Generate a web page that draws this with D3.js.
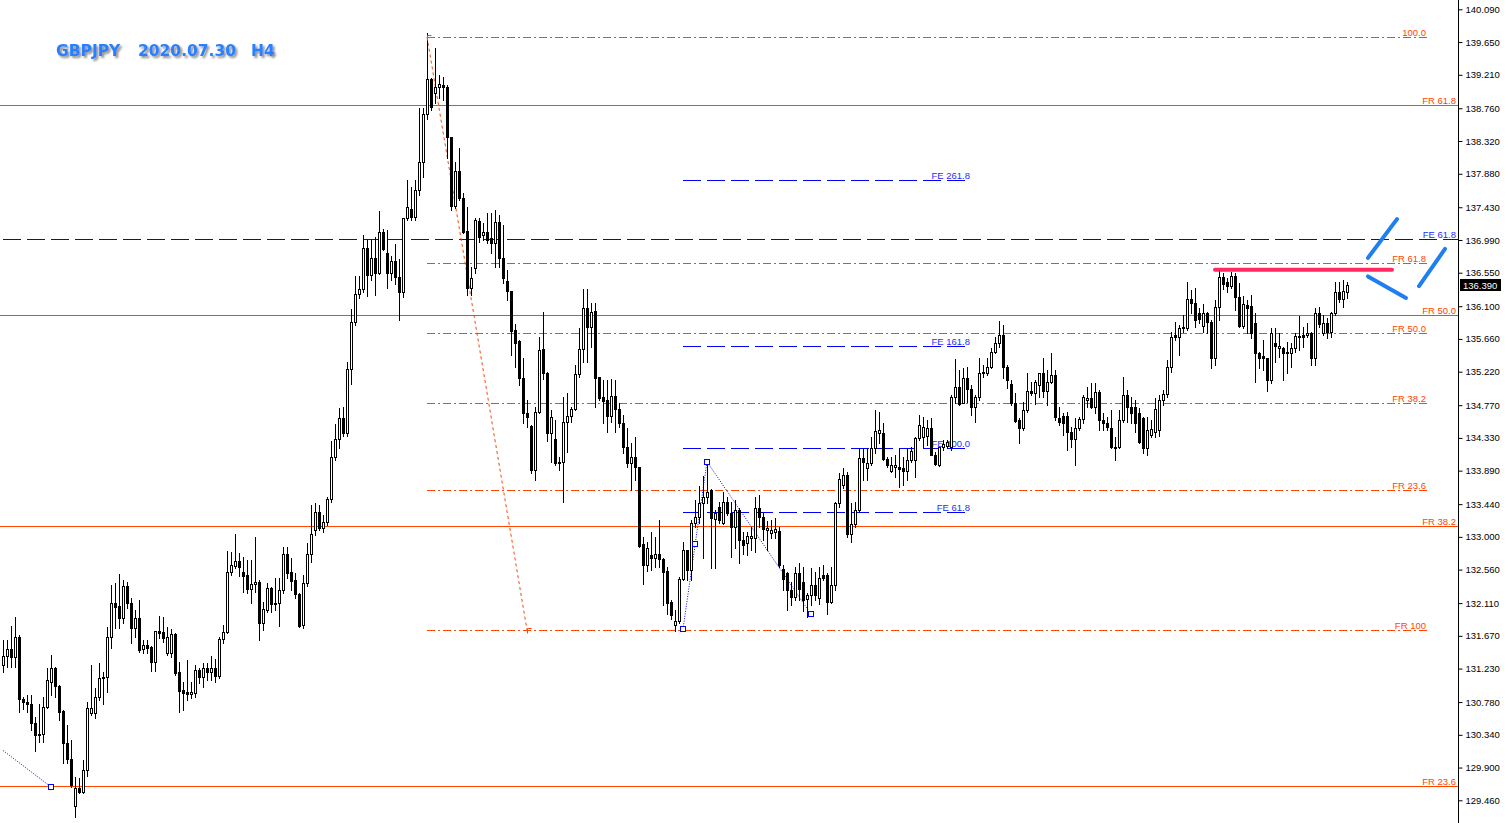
<!DOCTYPE html>
<html><head><meta charset="utf-8">
<script src="https://cdn.jsdelivr.net/npm/d3@7"></script>
<style>html,body{margin:0;padding:0;background:#fff;overflow:hidden}</style>
</head><body>
<svg id="c" width="1508" height="823"></svg>
<script>
// ---------- DATA ----------
const titleParts = ["GBPJPY", "2020.07.30", "H4"];
const yTicks = [140.090,139.650,139.210,138.760,138.320,137.880,137.430,136.990,136.550,136.100,135.660,135.220,134.770,134.330,133.890,133.440,133.000,132.560,132.110,131.670,131.230,130.780,130.340,129.900,129.460];
const lastPrice = 136.390;
// H4 candles [open, high, low, close]
const ohlc = [
[131.28,131.61,131.18,131.40],[131.40,131.61,131.25,131.49],[131.49,131.80,131.25,131.38],[131.38,131.92,131.25,131.65],
[131.65,131.68,130.65,130.82],[130.82,130.85,130.69,130.78],[130.78,130.87,130.65,130.75],[130.75,130.87,130.40,130.50],
[130.50,130.58,130.12,130.34],[130.35,130.75,130.24,130.34],[130.35,130.85,130.24,130.71],[130.71,131.24,130.70,131.08],
[131.05,131.41,130.87,131.24],[131.24,131.25,130.85,130.99],[130.99,131.01,130.54,130.65],[130.66,130.67,129.96,130.23],
[130.23,130.47,129.96,130.01],[130.01,130.27,129.64,129.66],[129.39,129.77,129.23,129.62],[129.62,129.76,129.56,129.57],
[129.57,130.00,129.56,129.87],[129.87,130.78,129.78,130.70],[130.63,131.28,130.60,130.70],[130.63,130.97,130.56,130.85],
[130.85,131.30,130.81,131.10],[131.12,131.18,130.75,131.10],[131.12,131.79,130.91,131.65],[131.65,132.35,131.51,132.11],
[132.11,132.38,131.77,132.06],[132.07,132.50,131.77,131.91],[131.91,132.42,131.84,132.34],[132.34,132.39,132.04,132.11],
[132.11,132.18,131.57,131.77],[131.77,132.02,131.65,131.91],[131.91,132.15,131.45,131.48],[131.49,131.61,131.44,131.55],
[131.55,131.61,131.44,131.51],[131.52,131.53,131.20,131.32],[131.32,131.73,131.20,131.73],[131.73,131.94,131.64,131.71],
[131.72,131.92,131.59,131.64],[131.44,131.79,131.41,131.65],[131.44,131.76,131.38,131.69],[131.69,131.71,131.14,131.17],
[131.18,131.32,130.65,130.93],[130.94,131.05,130.67,130.90],[130.91,131.34,130.81,130.89],[130.89,131.05,130.83,130.91],
[130.90,131.28,130.85,131.21],[131.21,131.24,131.03,131.12],[131.12,131.30,130.98,131.24],[131.24,131.30,131.08,131.18],
[131.18,131.40,131.08,131.24],[131.24,131.36,131.05,131.13],[131.13,131.65,131.10,131.63],[131.63,131.81,131.57,131.72],
[131.72,132.81,131.71,132.53],[132.53,132.80,132.49,132.62],[132.61,133.04,132.58,132.67],[132.67,132.78,132.47,132.59],
[132.53,132.73,132.26,132.47],[132.49,132.69,132.24,132.30],[132.30,132.69,132.11,132.37],[132.37,133.00,132.26,132.39],
[132.39,132.42,131.61,131.84],[131.84,132.12,131.75,132.03],[132.02,132.38,131.99,132.31],[132.31,132.33,131.99,132.10],
[132.11,132.45,132.02,132.10],[132.11,132.45,131.80,132.28],[132.28,132.86,132.24,132.77],[132.77,132.86,132.45,132.51],
[132.53,132.71,132.28,132.41],[132.42,132.51,132.18,132.23],[132.23,132.25,131.79,131.80],[131.81,132.49,131.77,132.38],
[132.38,132.92,132.34,132.77],[132.77,133.43,132.66,133.04],[133.09,133.45,133.02,133.33],[133.33,133.43,133.09,133.12],
[133.12,133.29,133.06,133.20],[133.20,133.53,133.16,133.51],[133.51,134.29,133.47,134.07],[134.07,134.52,134.03,134.31],
[134.31,134.73,134.19,134.60],[134.60,134.74,134.35,134.39],[134.39,135.35,134.35,135.26],[135.26,136.06,135.05,135.89],
[135.89,136.51,135.85,136.26],[136.26,136.51,136.21,136.33],[136.33,137.06,136.29,136.88],[136.88,136.99,136.24,136.52],
[136.52,136.99,136.45,136.75],[136.75,137.03,136.25,136.55],[136.55,137.38,136.53,137.10],[137.10,137.14,136.86,136.87],
[136.81,137.12,136.34,136.55],[136.55,136.77,136.45,136.71],[136.71,136.94,136.40,136.49],[136.49,136.73,135.91,136.29],
[136.29,137.29,136.22,137.29],[137.29,137.80,137.26,137.43],[137.41,137.70,137.26,137.30],[137.30,137.80,137.26,137.66],
[137.66,138.76,137.59,138.04],[138.04,138.76,137.84,138.68],[138.68,139.77,138.62,139.15],[139.15,139.17,138.74,138.78],
[138.97,139.57,138.83,139.05],[139.05,139.21,138.90,139.09],[139.07,139.18,138.87,139.05],[139.05,139.07,138.09,138.37],
[138.37,138.37,137.39,137.45],[137.45,138.04,137.42,137.92],[137.92,138.22,137.53,137.55],[137.55,137.62,137.08,137.10],
[137.11,137.43,136.25,136.34],[136.34,136.63,136.25,136.48],[136.61,137.29,136.55,137.26],[137.24,137.29,136.96,137.03],
[137.06,137.22,136.99,137.10],[137.10,137.35,136.95,136.99],[137.02,137.35,136.81,136.95],[136.95,137.39,136.63,137.23],
[137.23,137.33,136.63,136.75],[136.75,137.19,136.41,136.48],[136.44,136.59,136.18,136.30],[136.30,136.30,135.44,135.77],
[135.78,135.86,135.28,135.61],[135.63,135.65,135.04,135.13],[135.13,135.40,134.53,134.66],[134.66,134.84,134.48,134.61],
[134.49,134.50,133.86,133.90],[133.90,134.74,133.76,134.68],[134.68,135.69,134.66,135.51],[135.52,136.02,135.12,135.20],
[135.20,135.22,134.29,134.39],[134.39,134.70,134.01,134.61],[134.31,134.57,133.97,133.99],[134.01,134.07,133.90,133.99],
[134.01,134.88,133.47,134.54],[134.54,134.93,134.14,134.62],[134.62,134.74,134.54,134.72],[134.72,135.31,134.70,135.19],
[135.19,135.81,135.15,135.52],[135.52,136.33,135.35,136.08],[136.08,136.33,135.35,135.82],[135.82,136.14,135.55,136.02],
[136.04,136.14,134.74,135.13],[135.15,135.15,134.84,134.87],[134.88,135.11,134.53,134.83],[134.84,135.11,134.41,134.62],
[134.62,135.12,134.54,134.89],[134.89,135.11,134.41,134.72],[134.72,134.80,134.48,134.53],[134.53,134.64,134.13,134.21],
[134.21,134.46,133.94,133.99],[133.99,134.26,133.63,134.07],[134.07,134.34,133.76,133.94],[133.94,133.94,132.86,132.88],
[132.90,133.00,132.37,132.62],[132.62,132.93,132.54,132.85],[132.76,133.06,132.55,132.72],[132.72,133.00,132.59,132.77],
[132.77,133.23,132.59,132.70],[132.70,132.72,132.08,132.53],[132.54,132.59,131.97,132.11],[132.12,132.15,131.90,131.95],
[131.81,132.02,131.73,131.87],[131.87,132.46,131.84,132.43],[132.43,132.93,132.42,132.82],[132.82,132.82,132.42,132.55],
[132.55,133.23,132.42,133.19],[133.19,133.49,133.13,133.27],[133.27,133.68,133.19,133.45],[133.45,133.82,132.72,133.54],
[133.54,134.01,133.45,133.60],[133.63,133.64,132.58,133.25],[133.24,133.36,132.58,133.32],[133.40,133.47,133.19,133.23],
[133.19,133.60,133.17,133.47],[133.47,133.54,133.29,133.32],[133.32,133.47,132.73,133.13],[133.13,133.49,132.85,133.36],
[133.36,133.39,132.65,132.96],[132.96,133.06,132.77,132.89],[132.92,133.06,132.76,133.01],[132.98,133.13,132.82,133.01],
[132.98,133.53,132.80,133.39],[133.39,133.56,133.13,133.27],[133.27,133.32,132.96,133.10],[133.09,133.21,132.82,133.12],
[133.05,133.23,132.98,133.09],[133.06,133.25,132.98,133.10],[133.08,133.13,132.59,132.62],[132.57,132.62,132.28,132.43],
[132.51,132.53,132.02,132.28],[132.28,132.39,132.08,132.19],[132.19,132.59,132.15,132.51],[132.51,132.65,132.15,132.30],
[132.39,132.59,132.00,132.15],[132.16,132.25,131.92,132.22],[132.22,132.58,132.08,132.35],[132.35,132.53,132.15,132.22],
[132.18,132.59,132.10,132.45],[132.49,132.62,132.42,132.45],[132.49,132.51,131.97,132.12],[132.12,132.59,132.11,132.35],
[132.35,133.47,132.28,133.45],[133.45,133.86,133.40,133.78],[133.70,133.92,133.66,133.83],[133.83,133.87,133.00,133.04],
[133.04,133.45,132.93,133.17],[133.17,133.47,133.13,133.36],[133.36,134.19,133.33,134.06],[134.06,134.19,133.76,134.01],
[133.92,134.19,133.76,133.99],[133.99,134.34,133.96,134.19],[134.19,134.70,134.13,134.42],[134.39,134.68,134.26,134.44],
[134.39,134.53,134.03,134.05],[134.05,134.07,133.94,133.96],[133.88,134.07,133.87,133.96],[133.94,134.10,133.80,133.96],
[133.94,134.19,133.67,133.91],[133.92,134.07,133.70,133.88],[133.88,134.19,133.76,134.03],[134.03,134.21,134.01,134.15],
[134.03,134.34,133.80,134.33],[134.33,134.64,134.30,134.50],[134.34,134.61,134.21,134.48],[134.35,134.57,134.23,134.46],
[134.46,134.60,134.10,134.10],[134.10,134.14,133.96,133.98],[133.96,134.21,133.95,134.21],[134.21,134.30,134.17,134.25],
[134.22,134.30,134.19,134.27],[134.21,134.91,134.17,134.88],[134.88,135.39,134.80,135.01],[135.01,135.24,134.77,134.78],
[134.80,135.27,134.80,135.13],[135.13,135.28,134.81,134.99],[134.99,135.04,134.64,134.74],[134.74,134.91,134.54,134.88],
[134.88,135.40,134.84,135.20],[135.20,135.31,135.15,135.22],[135.20,135.40,135.17,135.28],[135.28,135.54,135.27,135.48],
[135.48,135.69,135.47,135.61],[135.61,135.90,135.55,135.71],[135.71,135.85,135.13,135.28],[135.28,135.31,135.00,135.11],
[135.05,135.11,134.77,134.80],[134.80,134.93,134.54,134.56],[134.57,134.60,134.26,134.46],[134.46,134.81,134.44,134.70],
[134.70,135.20,134.68,134.96],[134.96,135.08,134.91,134.93],[134.93,135.11,134.78,135.08],[135.04,135.20,134.88,135.20],
[135.20,135.40,134.88,134.96],[134.96,135.24,134.77,135.08],[135.08,135.47,135.07,135.17],[135.17,135.24,134.57,134.61],
[134.60,134.74,134.50,134.54],[134.62,134.66,134.37,134.53],[134.62,134.68,134.17,134.41],[134.41,134.48,134.21,134.31],
[134.31,134.60,133.96,134.46],[134.46,134.61,134.44,134.58],[134.58,134.91,134.53,134.88],[134.84,135.01,134.74,134.87],
[134.87,135.07,134.73,134.74],[134.74,135.07,134.66,134.95],[134.95,134.97,134.44,134.57],[134.57,134.66,134.44,134.53],
[134.53,134.61,134.44,134.48],[134.46,134.70,134.19,134.21],[134.19,134.34,134.03,134.21],[134.21,134.70,134.19,134.57],
[134.57,135.15,134.54,134.91],[134.91,134.97,134.54,134.74],[134.74,134.88,134.53,134.66],[134.74,134.84,134.41,134.53],
[134.66,134.73,134.26,134.28],[134.60,134.61,134.13,134.19],[134.19,134.61,134.10,134.44],[134.37,134.57,134.34,134.45],
[134.41,134.87,134.34,134.72],[134.44,134.91,134.35,134.84],[134.84,134.97,134.77,134.92],[134.92,135.38,134.88,135.28],
[135.28,135.75,135.22,135.69],[135.71,135.89,135.65,135.69],[135.69,135.85,135.44,135.81],[135.81,135.98,135.75,135.82],
[135.81,136.42,135.78,136.20],[136.20,136.32,136.01,136.14],[136.14,136.34,135.82,135.91],[136.01,136.08,135.87,135.93],
[135.83,136.13,135.75,136.01],[136.01,136.02,135.74,135.89],[135.89,135.91,135.27,135.41],[135.41,136.18,135.31,136.09],
[136.09,136.59,135.91,136.49],[136.49,136.55,136.33,136.40],[136.42,136.48,136.29,136.37],[136.37,136.56,136.34,136.51],
[136.51,136.55,136.05,136.22],[136.22,136.41,135.82,135.83],[135.83,136.24,135.81,136.13],[136.12,136.18,135.74,136.08],
[136.10,136.25,135.67,135.74],[135.87,136.01,135.08,135.47],[135.47,135.48,135.27,135.41],[135.43,135.65,135.24,135.41],
[135.41,135.41,134.96,135.11],[135.11,135.81,135.07,135.74],[135.61,135.81,135.35,135.57],[135.54,135.74,135.42,135.57],
[135.54,135.55,135.11,135.47],[135.48,135.62,135.20,135.47],[135.47,135.61,135.28,135.54],[135.54,135.74,135.48,135.70],
[135.69,135.97,135.51,135.70],[135.71,135.82,135.55,135.69],[135.71,135.87,135.69,135.74],[135.74,135.75,135.31,135.40],
[135.40,136.08,135.31,136.01],[136.01,136.09,135.82,135.86],[135.74,135.98,135.71,135.87],[135.87,135.94,135.67,135.75],
[135.75,136.02,135.69,136.01],[136.01,136.42,135.98,136.29],[136.29,136.42,136.16,136.20],[136.20,136.45,136.09,136.30],
[136.29,136.42,136.21,136.39]
];
// Fibonacci retracement (dash-dot), anchored from bar 106 (high) to bar 131
const frDashLevels = [139.72, 136.68, 135.74, 134.80, 133.63, 131.75];
const frDashLabels = ["100.0", "FR 61.8", "FR 50.0", "FR 38.2", "FR 23.6", "FR 100"];
const frDashSpan = [106, 356];
// Fibonacci retracement (solid, full width)
const frSolidLevels = [138.80, 135.98, 133.15, 129.65];
const frSolidLabels = ["FR 61.8", "FR 50.0", "FR 38.2", "FR 23.6"];
// Fibonacci expansion (blue dashed)
const feLevels = [137.80, 135.57, 134.19, 133.33];
const feLabels = ["FE 261.8", "FE 161.8", "FE 100.0", "FE 61.8"];
const feSpan = [170, 240.5];
const feLongLevel = 137.00, feLongLabel = "FE 61.8";
// trend lines [barIndex, price]
const frTrend = [[106, 139.72], [131, 131.75]];
const feTrend = [[170, 131.76], [176, 134.01], [202, 131.96]];
const feTrendMid = [173, 132.90];
const feTrendOld = [[0, 130.13], [12, 129.64]];
// hand-drawn annotations
const resistance = [[303, 136.59], [347.25, 136.59]];
const arrowStrokes = [
  [[341.25, 136.75], [348.5, 137.27]],
  [[341.25, 136.50], [350.75, 136.21]],
  [[354, 136.37], [360.5, 136.87]]
];

// ---------- DRAW ----------
const W = 1508, H = 823, axisX = 1458;
const svg = d3.select("#c");
const x = d3.scaleLinear().domain([0, 336]).range([3, 1347]);
const y = d3.scaleLinear().domain([129.46, 140.09]).range([800.3, 9.3]);
const ORANGE = "#ff4500", BLUE = "#0000ff";
const lblFont = "'Liberation Sans', Arial, sans-serif";

const defs = svg.append("defs");
const f = defs.append("filter").attr("id", "sh").attr("x", "-10%").attr("y", "-30%").attr("width", "130%").attr("height", "180%");
f.append("feDropShadow").attr("dx", 2).attr("dy", 2).attr("stdDeviation", 1.3).attr("flood-color", "#666").attr("flood-opacity", 0.75);
defs.append("clipPath").attr("id", "plot").append("rect").attr("x", 0).attr("y", 0).attr("width", axisX).attr("height", H);

const g = svg.append("g").attr("clip-path", "url(#plot)");
const py = v => Math.round(y(v)) + 0.5;

// solid FR lines
frSolidLevels.forEach((lv, k) => {
  g.append("line").attr("x1", 0).attr("x2", axisX).attr("y1", py(lv)).attr("y2", py(lv))
    .attr("stroke", ORANGE).attr("stroke-width", 1);
  g.append("text").attr("x", axisX - 2).attr("y", py(lv) - 2).attr("text-anchor", "end")
    .attr("font-family", lblFont).attr("font-size", 9.5).attr("fill", ORANGE).text(frSolidLabels[k]);
});
// dash-dot FR lines
frDashLevels.forEach((lv, k) => {
  g.append("line").attr("x1", x(frDashSpan[0])).attr("x2", x(frDashSpan[1])).attr("y1", py(lv)).attr("y2", py(lv))
    .attr("stroke", ORANGE).attr("stroke-width", 1).attr("stroke-dasharray", "8,3,2,3");
  g.append("text").attr("x", x(frDashSpan[1]) - 1).attr("y", py(lv) - 2).attr("text-anchor", "end")
    .attr("font-family", lblFont).attr("font-size", 9.5).attr("fill", ORANGE).text(frDashLabels[k]);
});
// FE lines
feLevels.forEach((lv, k) => {
  g.append("line").attr("x1", x(feSpan[0])).attr("x2", x(feSpan[1])).attr("y1", py(lv)).attr("y2", py(lv))
    .attr("stroke", BLUE).attr("stroke-width", 1).attr("stroke-dasharray", "18,6");
  g.append("text").attr("x", x(feSpan[1]) + 5).attr("y", py(lv) - 2).attr("text-anchor", "end")
    .attr("font-family", lblFont).attr("font-size", 9.5).attr("fill", "#2a2aff").text(feLabels[k]);
});
g.append("line").attr("x1", x(0)).attr("x2", axisX).attr("y1", py(feLongLevel)).attr("y2", py(feLongLevel))
  .attr("stroke", BLUE).attr("stroke-width", 1).attr("stroke-dasharray", "18,6");
g.append("text").attr("x", axisX - 2).attr("y", py(feLongLevel) - 2).attr("text-anchor", "end")
  .attr("font-family", lblFont).attr("font-size", 9.5).attr("fill", "#2a2aff").text(feLongLabel);

// trend lines
const line = d3.line().x(d => x(d[0])).y(d => y(d[1]));
g.append("path").attr("d", line(frTrend)).attr("fill", "none").attr("stroke", ORANGE).attr("stroke-width", 1).attr("stroke-dasharray", "3,3");
g.append("path").attr("d", line(feTrend)).attr("fill", "none").attr("stroke", BLUE).attr("stroke-width", 1).attr("stroke-dasharray", "1,1.5");
g.append("path").attr("d", line(feTrendOld)).attr("fill", "none").attr("stroke", BLUE).attr("stroke-width", 1).attr("stroke-dasharray", "1,1.5");

// candles
const cg = g.append("g");
ohlc.forEach((d, i) => {
  const [o, h, l, c] = d;
  const cx = Math.round(x(i));
  const yh = Math.round(y(h)), yl = Math.round(y(l));
  cg.append("line").attr("x1", cx + 0.5).attr("x2", cx + 0.5).attr("y1", yh).attr("y2", yl + 1)
    .attr("stroke", "#000").attr("stroke-width", 1);
  const top = Math.round(y(Math.max(o, c))), bot = Math.round(y(Math.min(o, c)));
  if (c >= o) {
    cg.append("rect").attr("x", cx - 0.5).attr("y", top + 0.5).attr("width", 2).attr("height", Math.max(bot - top, 1))
      .attr("fill", "#fff").attr("stroke", "#000").attr("stroke-width", 1);
  } else {
    cg.append("rect").attr("x", cx - 1).attr("y", top).attr("width", 3).attr("height", Math.max(bot - top, 1) + 1)
      .attr("fill", "#000");
  }
});

// anchor markers
const sq = (p, col) => g.append("rect").attr("x", Math.round(x(p[0])) - 2.5).attr("y", Math.round(y(p[1])) - 2.5)
  .attr("width", 5).attr("height", 5).attr("fill", "#fff").attr("stroke", col).attr("stroke-width", 1);
feTrend.forEach(p => sq(p, BLUE));
sq(feTrendMid, BLUE);
sq(feTrendOld[1], BLUE);
frTrend.forEach(p => {
  const px = Math.round(x(p[0])) + 0.5, pyy = Math.round(y(p[1])) + 0.5;
  g.append("path").attr("d", `M${px},${pyy + 3}V${pyy - 2}H${px + 4}`).attr("fill", "none").attr("stroke", ORANGE).attr("stroke-width", 1);
});

// annotations
g.append("path").attr("d", line(resistance)).attr("stroke", "#ff1f5a").attr("stroke-width", 4).attr("stroke-linecap", "round").attr("fill", "none").attr("opacity", 0.95);
arrowStrokes.forEach(s => g.append("path").attr("d", line(s)).attr("stroke", "#1f7ff0").attr("stroke-width", 4)
  .attr("stroke-linecap", "round").attr("fill", "none"));

// axis
svg.append("line").attr("x1", axisX + 0.5).attr("x2", axisX + 0.5).attr("y1", 0).attr("y2", H).attr("stroke", "#000");
const ax = svg.append("g").attr("transform", `translate(${axisX + 0.5},0)`)
  .call(d3.axisRight(y).tickValues(yTicks).tickFormat(d3.format(".3f")).tickSize(4).tickPadding(3));
ax.select(".domain").remove();
ax.selectAll("text").attr("font-family", lblFont).attr("font-size", 9.5).attr("fill", "#000");
ax.selectAll("line").attr("stroke", "#000");

// current price box
const ly = Math.round(y(lastPrice));
svg.append("rect").attr("x", axisX + 2).attr("y", ly - 6).attr("width", 41).attr("height", 12).attr("fill", "#000");
svg.append("text").attr("x", axisX + 5).attr("y", ly + 3.5).attr("font-family", lblFont).attr("font-size", 9.5)
  .attr("fill", "#fff").text(d3.format(".3f")(lastPrice));

// title
const tx = [56, 138, 251];
titleParts.forEach((t, k) => svg.append("text").attr("x", tx[k]).attr("y", 56)
  .attr("font-family", "'DejaVu Sans', Verdana, sans-serif").attr("font-weight", "bold").attr("font-size", 15.5)
  .attr("fill", "#2680ff").attr("filter", "url(#sh)").text(t));
</script>
</body></html>
